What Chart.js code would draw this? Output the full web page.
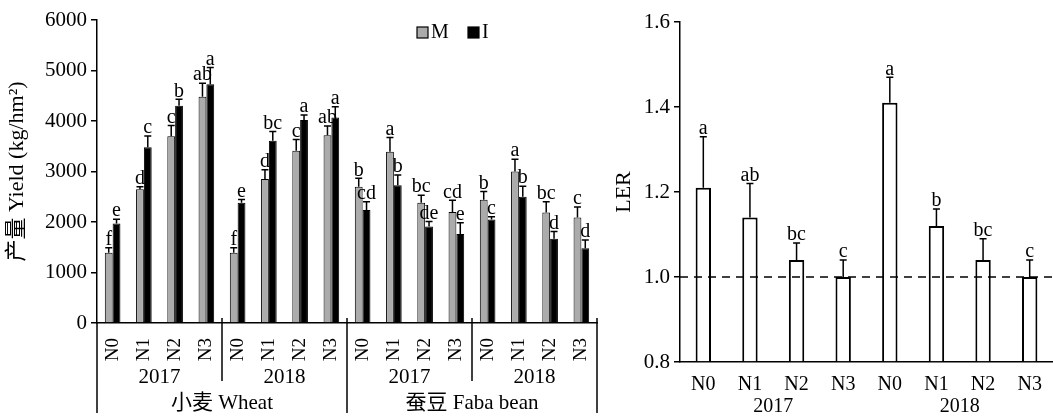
<!DOCTYPE html>
<html>
<head>
<meta charset="utf-8">
<script src="https://cdn.jsdelivr.net/npm/chart.js@4/dist/chart.umd.min.js"></script>
<style>
  body { margin: 0; background: #fff; }
  #left { position: absolute; left: 0; top: 0; width: 600px; height: 416px; }
  #right { position: absolute; left: 600px; top: 0; width: 453px; height: 416px; }
</style>
</head>
<body>
<div id="left"><canvas id="graficoYield"></canvas></div>
<div id="right"><canvas id="graficoLER"></canvas></div>
<script>
// Rendimento: 16 tratamentos (N0-N3 x 2 anos x 2 culturas)
const categorias = ['N0', 'N1', 'N2', 'N3', 'N0', 'N1', 'N2', 'N3', 'N0', 'N1', 'N2', 'N3', 'N0', 'N1', 'N2', 'N3'];
const anos = ['2017', '2018', '2017', '2018'];
const culturas = ['小麦 Wheat', '蚕豆 Faba bean'];

const yieldM = [1390, 2650, 3700, 4480, 1390, 2850, 3410, 3720, 2700, 3390, 2380, 2200, 2440, 3000, 2190, 2090];
const erroM = [100, 50, 210, 270, 100, 185, 225, 180, 165, 285, 150, 230, 165, 245, 210, 205];
const letrasM = ['f', 'd', 'c', 'ab', 'f', 'd', 'c', 'ab', 'b', 'a', 'bc', 'cd', 'b', 'a', 'bc', 'c'];

const yieldI = [1970, 3480, 4300, 4730, 2380, 3610, 4020, 4070, 2240, 2730, 1910, 1760, 2050, 2500, 1670, 1480];
const erroI = [85, 225, 130, 330, 65, 180, 100, 210, 160, 200, 100, 225, 55, 210, 140, 165];
const letrasI = ['e', 'c', 'b', 'a', 'e', 'bc', 'a', 'a', 'cd', 'b', 'de', 'e', 'c', 'b', 'd', 'd'];

const yieldTicks = [0, 1000, 2000, 3000, 4000, 5000, 6000];

// LER
const categoriasLER = ['N0', 'N1', 'N2', 'N3', 'N0', 'N1', 'N2', 'N3'];
const anosLER = ['2017', '2018'];
const ler = [1.21, 1.14, 1.04, 1.00, 1.41, 1.12, 1.04, 1.00];
const erroLER = [0.12, 0.08, 0.04, 0.04, 0.06, 0.04, 0.05, 0.04];
const letrasLER = ['a', 'ab', 'bc', 'c', 'a', 'b', 'bc', 'c'];
const lerTicks = [0.8, 1.0, 1.2, 1.4, 1.6];
const linhaRef = 1.0;

const FONTE = "'Liberation Serif', 'Times New Roman', 'Noto Sans CJK SC', serif";

// barras de erro + letras de significancia
const pluginErros = {
    id: 'erros',
    afterDatasetsDraw(chart) {
        const ctx = chart.ctx;
        const y = chart.scales.y;
        ctx.save();
        ctx.strokeStyle = '#000';
        ctx.fillStyle = '#000';
        ctx.lineWidth = 1.5;
        ctx.font = '20px ' + FONTE;
        ctx.textAlign = 'center';
        ctx.textBaseline = 'bottom';
        chart.data.datasets.forEach((ds, i) => {
            const meta = chart.getDatasetMeta(i);
            meta.data.forEach((bar, j) => {
                const topo = y.getPixelForValue(ds.data[j] + ds.erro[j]);
                ctx.beginPath();
                ctx.moveTo(bar.x, bar.y);
                ctx.lineTo(bar.x, topo);
                ctx.moveTo(bar.x - 3.5, topo);
                ctx.lineTo(bar.x + 3.5, topo);
                ctx.stroke();
                ctx.fillText(ds.letras[j], bar.x, topo + 2);
            });
        });
        ctx.restore();
    }
};

// separadores e rotulos de grupo do grafico de rendimento
const pluginGrupos = {
    id: 'grupos',
    afterDraw(chart) {
        const ctx = chart.ctx;
        const x = chart.scales.x;
        const base = chart.chartArea.bottom;
        const larg = x.getPixelForValue(1) - x.getPixelForValue(0);
        const borda = i => x.getPixelForValue(i) - larg / 2;
        ctx.save();
        ctx.strokeStyle = '#000';
        ctx.lineWidth = 1.5;
        ctx.fillStyle = '#000';
        ctx.font = '21px ' + FONTE;
        ctx.textAlign = 'center';
        ctx.textBaseline = 'middle';
        for (let g = 0; g <= anos.length; g++) {
            const px = borda(g * 4);
            const longo = g % 2 === 0;
            ctx.beginPath();
            ctx.moveTo(px, g === 0 ? base : base - 5);
            ctx.lineTo(px, longo ? base + 90 : base + 58);
            ctx.stroke();
        }
        anos.forEach((a, g) => ctx.fillText(a, (borda(g * 4) + borda(g * 4 + 4)) / 2, base + 54));
        culturas.forEach((c, g) => ctx.fillText(c, borda(g * 8 + 4), base + 80));

        // legenda
        const lx = chart.chartArea.left + 320;
        const ly = 27;
        chart.data.datasets.forEach((ds, i) => {
            const bx = lx + i * 51;
            ctx.fillStyle = ds.backgroundColor;
            ctx.fillRect(bx, ly, 11, 11);
            ctx.lineWidth = 1.2;
            ctx.strokeRect(bx, ly, 11, 11);
            ctx.fillStyle = '#000';
            ctx.textAlign = 'left';
            ctx.font = '20px ' + FONTE;
            ctx.fillText(ds.label, bx + 14, ly + 6);
        });
        ctx.restore();
    }
};

// linha tracejada + anos no grafico LER
const pluginLER = {
    id: 'ler',
    afterDatasetsDraw(chart) {
        const ctx = chart.ctx;
        const x = chart.scales.x;
        const py = chart.scales.y.getPixelForValue(linhaRef);
        ctx.save();
        ctx.strokeStyle = '#000';
        ctx.lineWidth = 1.5;
        ctx.setLineDash([8, 6]);
        ctx.beginPath();
        ctx.moveTo(chart.chartArea.left, py);
        ctx.lineTo(chart.chartArea.right, py);
        ctx.stroke();
        ctx.setLineDash([]);
        ctx.fillStyle = '#000';
        ctx.font = '20px ' + FONTE;
        ctx.textAlign = 'center';
        ctx.textBaseline = 'middle';
        anosLER.forEach((a, g) => {
            const cx = (x.getPixelForValue(g * 4 + 1) + x.getPixelForValue(g * 4 + 2)) / 2;
            ctx.fillText(a, cx, chart.chartArea.bottom + 45);
        });
        ctx.restore();
    }
};

function eixoY(min, max, titulo, largura, pad, fmt) {
    return {
        min: min,
        max: max,
        afterBuildTicks: s => { s.ticks = (min === 0 ? yieldTicks : lerTicks).map(v => ({ value: v })); },
        ticks: {
            color: '#000',
            font: { family: FONTE, size: 21 },
            padding: 4,
            callback: fmt
        },
        grid: { drawOnChartArea: false, tickLength: 6, color: '#000', lineWidth: 1.5 },
        border: { color: '#000', width: 1.5 },
        title: {
            display: true,
            text: titulo,
            color: '#000',
            font: { family: FONTE, size: 22 },
            padding: { top: pad, bottom: 0 }
        },
        afterFit: s => { s.width = largura; }
    };
}

Chart.defaults.animation = false;

new Chart(document.getElementById('graficoYield').getContext('2d'), {
    type: 'bar',
    data: {
        labels: categorias,
        datasets: [
            {
                label: 'M',
                data: yieldM,
                erro: erroM,
                letras: letrasM,
                backgroundColor: '#ababab',
                borderColor: '#000',
                borderWidth: 1,
                categoryPercentage: 0.5,
                barPercentage: 1.0
            },
            {
                label: 'I',
                data: yieldI,
                erro: erroI,
                letras: letrasI,
                backgroundColor: '#000',
                borderColor: '#000',
                borderWidth: 1,
                categoryPercentage: 0.5,
                barPercentage: 1.0
            }
        ]
    },
    options: {
        responsive: true,
        maintainAspectRatio: false,
        layout: { padding: { top: 20, right: 3, left: 0, bottom: 0 } },
        plugins: { legend: { display: false }, tooltip: { enabled: false } },
        scales: {
            x: {
                grid: { display: false },
                border: { color: '#000', width: 1.5 },
                ticks: {
                    color: '#000',
                    font: { family: FONTE, size: 19 },
                    minRotation: 90,
                    maxRotation: 90,
                    autoSkip: false,
                    padding: 7
                },
                afterFit: s => {
                    s.height = 93;
                    s.paddingLeft = 0;
                    s.paddingRight = 0;
                }
            },
            y: eixoY(0, 6000, '产量 Yield (kg/hm²)', 97, 4, v => v)
        }
    },
    plugins: [pluginErros, pluginGrupos]
});

new Chart(document.getElementById('graficoLER').getContext('2d'), {
    type: 'bar',
    data: {
        labels: categoriasLER,
        datasets: [{
            label: 'LER',
            data: ler,
            erro: erroLER,
            letras: letrasLER,
            backgroundColor: '#fff',
            borderColor: '#000',
            borderWidth: 2,
            base: 0.8,
            categoryPercentage: 0.33,
            barPercentage: 1.0
        }]
    },
    options: {
        responsive: true,
        maintainAspectRatio: false,
        layout: { padding: { top: 22, right: 0, left: 0, bottom: 0 } },
        plugins: { legend: { display: false }, tooltip: { enabled: false } },
        scales: {
            x: {
                grid: { display: false },
                border: { color: '#000', width: 1.5 },
                ticks: {
                    color: '#000',
                    font: { family: FONTE, size: 20 },
                    maxRotation: 0,
                    autoSkip: false,
                    padding: 3
                },
                afterFit: s => {
                    s.height = 54;
                    s.paddingLeft = 0;
                    s.paddingRight = 0;
                }
            },
            y: eixoY(0.8, 1.6, 'LER', 80, 11, v => v.toFixed(1))
        }
    },
    plugins: [pluginErros, pluginLER]
});
</script>
</body>
</html>
